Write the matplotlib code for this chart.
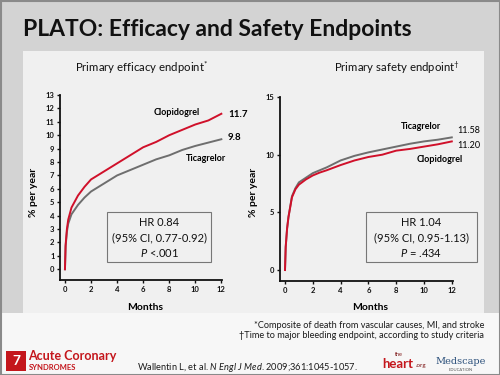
import numpy as np
import matplotlib
matplotlib.use('Agg')
import matplotlib.pyplot as plt
from matplotlib.patches import Rectangle

plt.rcParams['font.family'] = ['Lato', 'DejaVu Sans']
plt.rcParams['mathtext.fontset'] = 'custom'
plt.rcParams['mathtext.rm'] = 'Lato'
plt.rcParams['mathtext.it'] = 'Lato:italic'
plt.rcParams['mathtext.bf'] = 'Lato:bold'

# --- data (months, % per year) ---
months = [0, 0.05, 0.15, 0.25, 0.5, 0.75, 1, 1.5, 2, 2.5, 3, 4, 5, 6, 7, 8, 9, 10, 11, 12]
eff_clopidogrel = [0, 1.8, 3.0, 3.7, 4.6, 5.05, 5.5, 6.15, 6.7, 7.0, 7.3, 7.9, 8.5, 9.1, 9.5, 10.0, 10.4, 10.8, 11.1, 11.6]
eff_ticagrelor = [0, 1.7, 2.8, 3.4, 4.1, 4.45, 4.8, 5.35, 5.8, 6.1, 6.4, 7.0, 7.4, 7.8, 8.2, 8.5, 8.9, 9.2, 9.45, 9.7]
saf_clopidogrel = [0, 2.0, 3.6, 4.6, 6.3, 7.0, 7.4, 7.85, 8.2, 8.45, 8.65, 9.1, 9.5, 9.8, 10.0, 10.35, 10.5, 10.7, 10.9, 11.15]
saf_ticagrelor = [0, 2.0, 3.6, 4.6, 6.4, 7.1, 7.6, 8.0, 8.4, 8.65, 8.9, 9.5, 9.9, 10.2, 10.45, 10.7, 10.95, 11.15, 11.3, 11.5]
eff_yticks = list(range(0, 14))
saf_yticks = [0, 5, 10, 15]
xticks = [0, 2, 4, 6, 8, 10, 12]

RED = '#d0102a'
GRAY = '#6e6e6e'

W, H = 500, 375
fig = plt.figure(figsize=(5, 3.75), dpi=100)
fig.patch.set_facecolor('#f7f7f7')


def box(x0, y0, x1, y1, **kw):
    # pixel coords (top-left origin) -> figure rect
    fig.patches.append(Rectangle((x0 / W, 1 - y1 / H), (x1 - x0) / W, (y1 - y0) / H,
                                 transform=fig.transFigure, **kw))


def ftext(x, y, s, **kw):
    return fig.text(x / W, 1 - y / H, s, **kw)


# slide background
box(0, 0, 500, 313, facecolor='#d3d3d3', edgecolor='none', zorder=-5)
box(23, 51, 484, 313, facecolor='#f0f0f0', edgecolor='none', zorder=-4)
box(0.5, 0.5, 499.5, 374.5, facecolor='none', edgecolor='#8a8a8a', linewidth=1.5, zorder=10)

ftext(23, 30, 'PLATO: Efficacy and Safety Endpoints', fontsize=16.5, fontweight='bold',
      va='center', ha='left', color='#111111')


def style_axes(ax, yticks):
    ax.set_facecolor('none')
    for s in ['top', 'right']:
        ax.spines[s].set_visible(False)
    for s in ['left', 'bottom']:
        ax.spines[s].set_linewidth(1.3)
        ax.spines[s].set_color('#111111')
    ax.set_yticks(yticks)
    ax.set_xticks(xticks)
    ax.tick_params(length=2, width=1, labelsize=5.5, pad=2, colors='#111111')
    for lab in ax.get_xticklabels() + ax.get_yticklabels():
        lab.set_fontweight('bold')


# efficacy panel
ax1 = fig.add_axes([60 / W, 1 - 280 / H, 162 / W, 185 / H])
ax1.plot(months, eff_ticagrelor, color=GRAY, lw=1.4, clip_on=False)
ax1.plot(months, eff_clopidogrel, color=RED, lw=1.4, clip_on=False)
ax1.set_xlim(-0.38, 12.05)
ax1.set_ylim(-0.8, 13)
style_axes(ax1, eff_yticks)
ax1.text(8.6, 11.7, 'Clopidogrel', fontsize=6.5, fontweight='bold', ha='center', va='center')
ax1.text(12.5, 11.55, '11.7', fontsize=7, fontweight='bold', ha='left', va='center')
ax1.text(12.5, 9.85, '9.8', fontsize=7, fontweight='bold', ha='left', va='center')
ax1.text(10.8, 8.3, 'Ticagrelor', fontsize=6.5, fontweight='bold', ha='center', va='center')

# safety panel
ax2 = fig.add_axes([280 / W, 1 - 281 / H, 172.5 / W, 184 / H])
ax2.plot(months, saf_ticagrelor, color=GRAY, lw=1.4, clip_on=False)
ax2.plot(months, saf_clopidogrel, color=RED, lw=1.4, clip_on=False)
ax2.set_xlim(-0.36, 12.05)
ax2.set_ylim(-0.95, 15)
style_axes(ax2, saf_yticks)
ax2.text(9.8, 12.45, 'Ticagrelor', fontsize=6.5, fontweight='bold', ha='center', va='center')
ax2.text(12.4, 12.1, '11.58', fontsize=6.5, ha='left', va='center')
ax2.text(12.4, 10.8, '11.20', fontsize=6.5, ha='left', va='center')
ax2.text(11.1, 9.6, 'Clopidogrel', fontsize=6.5, fontweight='bold', ha='center', va='center')

# panel titles and labels
ftext(142, 68, 'Primary efficacy endpoint$^{*}$', fontsize=8.2, ha='center', va='center', color='#111111')
ftext(397, 68, 'Primary safety endpoint$^{\u2020}$', fontsize=8.2, ha='center', va='center', color='#111111')
for x in (33, 253):
    ftext(x, 192, '% per year', fontsize=7.5, fontweight='bold', rotation=90, ha='center', va='center')
ftext(145, 307, 'Months', fontsize=7.5, fontweight='bold', ha='center', va='center')
ftext(370, 307, 'Months', fontsize=7.5, fontweight='bold', ha='center', va='center')

# HR boxes
box(107, 212, 211, 262, facecolor='#f0f0f0', edgecolor='#777777', linewidth=0.8, zorder=3)
box(366, 212, 477, 262, facecolor='#f0f0f0', edgecolor='#777777', linewidth=0.8, zorder=3)
for cx, lines in ((159, ['HR 0.84', '(95% CI, 0.77-0.92)', r'$\it{P}$ <.001']),
                  (421, ['HR 1.04', '(95% CI, 0.95-1.13)', r'$\it{P}$ = .434'])):
    for y, s in zip((223, 238, 253), lines):
        ftext(cx, y, s, fontsize=8, ha='center', va='center', zorder=4, color='#111111')

# footnotes
ftext(484, 325, '*Composite of death from vascular causes, MI, and stroke', fontsize=6.6,
      ha='right', va='center', color='#1a1a1a')
ftext(484, 336, '\u2020Time to major bleeding endpoint, according to study criteria', fontsize=6.6,
      ha='right', va='center', color='#1a1a1a')
ftext(247, 368, r'Wallentin L, et al. $\it{N\ Engl\ J\ Med}$. 2009;361:1045-1057.', fontsize=6.7,
      ha='center', va='center', color='#1a1a1a')

# logos (text only)
LOGO_RED = '#c4161c'
box(6, 351, 26, 371, facecolor=LOGO_RED, edgecolor='none')
ftext(16, 361, '7', fontsize=10, fontweight='bold', color='white', ha='center', va='center')
ftext(28, 356, 'Acute Coronary', fontsize=9, fontweight='bold', color=LOGO_RED, ha='left', va='center')
ftext(29, 368, 'SYNDROMES', fontsize=5.5, fontweight='bold', color=LOGO_RED, ha='left', va='center')
ftext(399, 354, 'the', fontsize=4, color='#7a1010', ha='center', va='center')
ftext(382, 364, 'heart', fontsize=9.5, fontweight='bold', color=LOGO_RED, ha='left', va='center')
ftext(416, 366, '.org', fontsize=4.5, color='#7a1010', ha='left', va='center')
ftext(461, 362, 'Medscape', fontsize=7, family='DejaVu Serif', color='#2a4f7a', ha='center', va='center')
ftext(461, 370, 'EDUCATION', fontsize=3, color='#555555', ha='center', va='center')

fig.savefig('out.png', dpi=100, facecolor=fig.get_facecolor())
